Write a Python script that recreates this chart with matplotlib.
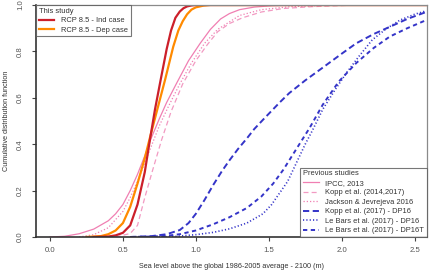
import matplotlib

matplotlib.use("Agg")
import matplotlib.pyplot as plt
from matplotlib.lines import Line2D

plt.rcParams["font.family"] = ["Liberation Sans", "DejaVu Sans"]

# This study
ind_x = [0.30, 0.40, 0.45, 0.50, 0.55, 0.60, 0.65, 0.685, 0.72, 0.755, 0.80, 0.83, 0.86, 0.89, 0.915, 0.94, 0.97, 1.0, 1.05, 2.6]
ind_y = [0.0, 0.002, 0.007, 0.018, 0.05, 0.14, 0.28, 0.418, 0.55, 0.665, 0.81, 0.89, 0.945, 0.972, 0.986, 0.994, 0.998, 1.0, 1.0, 1.0]
dep_x = [0.25, 0.35, 0.40, 0.45, 0.50, 0.55, 0.60, 0.65, 0.69, 0.74, 0.79, 0.845, 0.88, 0.91, 0.94, 0.97, 1.0, 1.05, 1.1, 2.6]
dep_y = [0.0, 0.004, 0.012, 0.028, 0.06, 0.13, 0.23, 0.34, 0.44, 0.56, 0.68, 0.82, 0.89, 0.93, 0.96, 0.98, 0.99, 0.997, 1.0, 1.0]

# Previous studies
ipcc_x = [0.0, 0.10, 0.20, 0.30, 0.40, 0.45, 0.50, 0.55, 0.60, 0.65, 0.69, 0.75, 0.80, 0.87, 0.95, 1.03, 1.10, 1.17, 1.23, 1.30, 1.40, 1.52, 1.7, 2.6]
ipcc_y = [0.0, 0.003, 0.014, 0.034, 0.07, 0.1, 0.14, 0.2, 0.27, 0.35, 0.42, 0.51, 0.58, 0.665, 0.76, 0.835, 0.895, 0.94, 0.963, 0.98, 0.991, 0.997, 1.0, 1.0]
kopp_x = [0.45, 0.55, 0.60, 0.65, 0.70, 0.765, 0.83, 0.91, 1.0, 1.08, 1.15, 1.23, 1.32, 1.45, 1.6, 1.8, 2.1, 2.6]
kopp_y = [0.0, 0.015, 0.05, 0.17, 0.28, 0.418, 0.54, 0.66, 0.76, 0.83, 0.885, 0.92, 0.945, 0.97, 0.985, 0.993, 1.0, 1.0]
jack_x = [0.20, 0.30, 0.40, 0.50, 0.55, 0.60, 0.65, 0.70, 0.75, 0.81, 0.89, 0.97, 1.06, 1.15, 1.30, 1.45, 1.65, 2.0, 2.6]
jack_y = [0.0, 0.01, 0.04, 0.11, 0.17, 0.24, 0.32, 0.40, 0.48, 0.56, 0.66, 0.75, 0.835, 0.895, 0.955, 0.98, 0.993, 1.0, 1.0]
kdp16_x = [0.55, 0.70, 0.80, 0.89, 0.95, 1.0, 1.06, 1.12, 1.18, 1.23, 1.29, 1.35, 1.40, 1.46, 1.575, 1.64, 1.75, 1.87, 2.0, 2.10, 2.22, 2.33, 2.45, 2.58]
kdp16_y = [0.0, 0.004, 0.012, 0.03, 0.06, 0.10, 0.16, 0.225, 0.285, 0.33, 0.38, 0.425, 0.465, 0.505, 0.58, 0.62, 0.675, 0.73, 0.79, 0.835, 0.875, 0.906, 0.94, 0.97]
lb16_x = [0.70, 0.85, 1.0, 1.12, 1.23, 1.35, 1.46, 1.52, 1.575, 1.63, 1.69, 1.75, 1.80, 1.87, 1.95, 2.03, 2.12, 2.21, 2.30, 2.40, 2.50, 2.58]
lb16_y = [0.0, 0.002, 0.01, 0.02, 0.035, 0.06, 0.10, 0.14, 0.19, 0.24, 0.32, 0.40, 0.46, 0.55, 0.63, 0.705, 0.78, 0.85, 0.895, 0.935, 0.96, 0.975]
lb16t_x = [0.55, 0.70, 0.80, 0.89, 1.0, 1.12, 1.23, 1.35, 1.45, 1.53, 1.60, 1.67, 1.73, 1.78, 1.87, 1.98, 2.10, 2.22, 2.33, 2.45, 2.58]
lb16t_y = [0.0, 0.002, 0.005, 0.012, 0.028, 0.055, 0.085, 0.125, 0.175, 0.23, 0.29, 0.36, 0.42, 0.47, 0.57, 0.67, 0.75, 0.815, 0.864, 0.90, 0.935]

x_ticks = [0.0, 0.5, 1.0, 1.5, 2.0, 2.5]
y_ticks = [0.0, 0.2, 0.4, 0.6, 0.8, 1.0]

RED = "#cc1f2a"
ORANGE = "#ff8a00"
PINK = "#f07fb2"
PINK_LT = "#f29ac2"
BLUE = "#3434c8"

fig = plt.figure(figsize=(4.30, 2.71), dpi=100)
ax = fig.add_axes([0.0837, 0.1255, 0.9093, 0.856])

ax.plot(ipcc_x, ipcc_y, color=PINK, lw=0.9)
ax.plot(kopp_x, kopp_y, color=PINK_LT, lw=0.9, dashes=(4, 2.5))
ax.plot(jack_x, jack_y, color=PINK, lw=0.9, dashes=(1, 1.6))
ax.plot(kdp16_x, kdp16_y, color=BLUE, lw=1.4, dashes=(3.2, 1.8))
ax.plot(lb16_x, lb16_y, color=BLUE, lw=1.2, dashes=(0.7, 1.3))
ax.plot(lb16t_x, lb16t_y, color=BLUE, lw=1.4, dashes=(2.2, 1.8))
ax.plot(dep_x, dep_y, color=ORANGE, lw=1.6)
ax.plot(ind_x, ind_y, color=RED, lw=1.6)

ax.set_xlim(-0.096, 2.585)
ax.set_ylim(0, 1)
ax.set_xticks(x_ticks)
ax.set_yticks(y_ticks)
ax.set_xticklabels([f"{v:.1f}" for v in x_ticks])
ax.set_yticklabels([f"{v:.1f}" for v in y_ticks], rotation=90, va="center")
ax.tick_params(axis="both", labelsize=5.6, labelcolor="#555555", color="#444444",
               length=3, width=0.8)
ax.tick_params(axis="x", pad=4)
ax.tick_params(axis="y", pad=5.5)

for side in ("left", "bottom"):
    ax.spines[side].set_color("#333333")
    ax.spines[side].set_linewidth(1.2)
for side in ("top", "right"):
    ax.spines[side].set_color("#8a8a8a")
    ax.spines[side].set_linewidth(0.9)

ax.set_xlabel("Sea level above the global 1986-2005 average - 2100 (m)", fontsize=5.2,
              color="#333333", labelpad=7)
ax.set_ylabel("Cumulative distribution function", fontsize=5.2, color="#333333", labelpad=5)

legend_kw = dict(fontsize=5.4, title_fontsize=5.4, frameon=True, fancybox=False,
                 borderaxespad=0, handlelength=2.1, handletextpad=0.9,
                 labelspacing=0.3, borderpad=0.35, alignment="left")

study = ax.legend(
    handles=[Line2D([], [], color=RED, lw=1.6), Line2D([], [], color=ORANGE, lw=1.6)],
    labels=["RCP 8.5 - Ind case", "RCP 8.5 - Dep case"],
    title="This study", loc="upper left", bbox_to_anchor=(0, 1), **legend_kw,
)
ax.add_artist(study)

prev = ax.legend(
    handles=[
        Line2D([], [], color=PINK, lw=0.9),
        Line2D([], [], color=PINK_LT, lw=0.9, dashes=(4, 2.5)),
        Line2D([], [], color=PINK, lw=0.9, dashes=(1, 1.6)),
        Line2D([], [], color=BLUE, lw=1.4, dashes=(3.2, 1.8)),
        Line2D([], [], color=BLUE, lw=1.2, dashes=(0.7, 1.3)),
        Line2D([], [], color=BLUE, lw=1.4, dashes=(2.2, 1.8)),
    ],
    labels=[
        "IPCC, 2013",
        "Kopp et al. (2014,2017)",
        "Jackson & Jevrejeva 2016",
        "Kopp et al. (2017) - DP16",
        "Le Bars et al. (2017) - DP16",
        "Le Bars et al. (2017) - DP16T",
    ],
    title="Previous studies", loc="lower right", bbox_to_anchor=(1, 0), **legend_kw,
)

for leg in (study, prev):
    leg.get_frame().set_edgecolor("#555555")
    leg.get_frame().set_linewidth(0.8)
    leg.get_title().set_color("#333333")
    for t in leg.get_texts():
        t.set_color("#333333")

fig.savefig("out.png", dpi=100)
plt.close(fig)
